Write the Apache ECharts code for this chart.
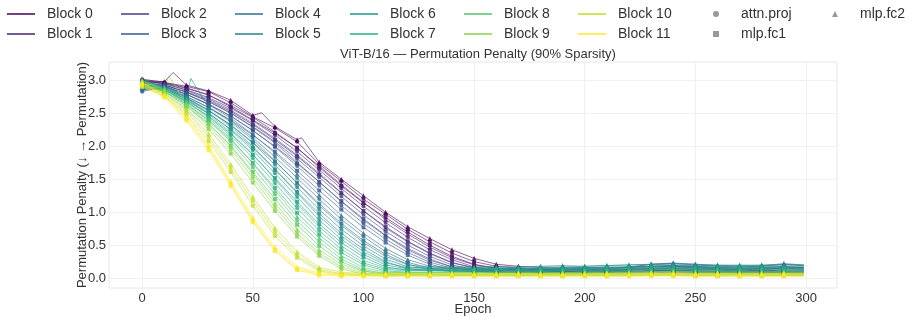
<!DOCTYPE html>
<html><head><meta charset="utf-8">
<script src="https://cdn.jsdelivr.net/npm/echarts@6/dist/echarts.min.js"></script>
<style>html,body{margin:0;padding:0;background:#fff}#c{width:913px;height:317px}</style>
</head><body><div id="c"></div>
<script>
const EPOCHS = [0,10,20,30,40,50,60,70,80,90,100,110,120,130,140,150,160,170,180,190,200,210,220,230,240,250,260,270,280,290,299];
const BLOCK_NAMES = ['Block 0','Block 1','Block 2','Block 3','Block 4','Block 5','Block 6','Block 7','Block 8','Block 9','Block 10','Block 11'];
const LAYER_NAMES = ['attn.proj','mlp.fc1','mlp.fc2'];
const X_TICKS = [0,50,100,150,200,250,300];
const Y_TICKS = [0,0.5,1,1.5,2,2.5,3];
const TITLE = 'ViT-B/16 — Permutation Penalty (90% Sparsity)';
const X_NAME = 'Epoch';
const Y_NAME = 'Permutation Penalty (↓ → Permutation)';

const B0_ATTN = [3.02,2.97,2.91,2.83,2.66,2.45,2.28,2.07,1.73,1.47,1.20,0.97,0.74,0.55,0.38,0.25,0.18,0.15,0.13,0.12,0.12,0.11,0.12,0.13,0.14,0.13,0.12,0.11,0.12,0.11,0.11];
const B0_FC1  = [2.98,2.96,2.88,2.78,2.60,2.40,2.20,1.98,1.68,1.40,1.14,0.92,0.70,0.50,0.33,0.21,0.15,0.12,0.11,0.10,0.09,0.09,0.10,0.11,0.10,0.09,0.09,0.10,0.09,0.08,0.08];
const B0_FC2  = [3.00,2.98,2.93,2.84,2.70,2.47,2.30,2.10,1.76,1.50,1.25,1.00,0.78,0.60,0.43,0.30,0.21,0.18,0.16,0.15,0.14,0.15,0.16,0.18,0.19,0.17,0.16,0.15,0.16,0.17,0.16];
const B1_ATTN = [3.00,2.95,2.86,2.74,2.58,2.39,2.17,1.92,1.64,1.36,1.09,0.84,0.62,0.43,0.28,0.17,0.12,0.11,0.10,0.11,0.10,0.09,0.10,0.11,0.12,0.11,0.10,0.10,0.11,0.10,0.10];
const B1_FC1  = [2.96,2.93,2.83,2.70,2.53,2.33,2.10,1.85,1.57,1.29,1.02,0.78,0.56,0.38,0.24,0.15,0.10,0.08,0.08,0.07,0.08,0.07,0.08,0.09,0.08,0.08,0.07,0.08,0.08,0.07,0.07];
const B1_FC2  = [2.99,2.97,2.89,2.78,2.62,2.44,2.22,1.97,1.70,1.42,1.15,0.89,0.67,0.47,0.31,0.20,0.15,0.14,0.13,0.13,0.12,0.13,0.14,0.17,0.18,0.16,0.14,0.13,0.14,0.15,0.14];
const B2_ATTN = [2.97,2.93,2.82,2.68,2.51,2.30,2.07,1.81,1.53,1.24,0.96,0.71,0.50,0.33,0.20,0.13,0.12,0.12,0.11,0.12,0.13,0.12,0.13,0.15,0.16,0.15,0.14,0.13,0.14,0.15,0.14];
const B2_FC1  = [2.93,2.91,2.79,2.64,2.46,2.24,2.00,1.74,1.46,1.17,0.90,0.65,0.45,0.29,0.17,0.11,0.09,0.09,0.08,0.09,0.09,0.08,0.09,0.10,0.11,0.10,0.09,0.09,0.10,0.09,0.09];
const B2_FC2  = [2.98,2.95,2.85,2.72,2.55,2.35,2.12,1.87,1.59,1.30,1.02,0.76,0.55,0.37,0.23,0.16,0.15,0.15,0.14,0.15,0.16,0.15,0.17,0.21,0.22,0.20,0.18,0.17,0.18,0.21,0.19];
const B3_ATTN = [2.83,2.91,2.79,2.64,2.46,2.24,1.99,1.70,1.40,1.10,0.83,0.59,0.39,0.24,0.15,0.12,0.12,0.13,0.12,0.12,0.13,0.14,0.13,0.15,0.17,0.16,0.15,0.14,0.15,0.16,0.15];
const B3_FC1  = [2.86,2.88,2.75,2.59,2.40,2.17,1.92,1.63,1.33,1.04,0.77,0.54,0.35,0.21,0.13,0.10,0.09,0.10,0.09,0.10,0.09,0.10,0.09,0.11,0.12,0.11,0.10,0.10,0.11,0.10,0.10];
const B3_FC2  = [2.90,2.93,2.82,2.68,2.50,2.29,2.05,1.76,1.46,1.16,0.88,0.64,0.43,0.27,0.17,0.14,0.14,0.15,0.14,0.15,0.16,0.17,0.16,0.21,0.23,0.21,0.19,0.18,0.19,0.22,0.20];
const B4_ATTN = [2.85,2.90,2.76,2.59,2.39,2.13,1.84,1.52,1.20,0.89,0.63,0.40,0.24,0.15,0.11,0.10,0.11,0.11,0.10,0.11,0.12,0.11,0.12,0.13,0.14,0.13,0.12,0.12,0.13,0.12,0.12];
const B4_FC1  = [2.88,2.87,2.72,2.54,2.33,2.06,1.77,1.45,1.13,0.83,0.57,0.36,0.21,0.13,0.10,0.09,0.09,0.08,0.08,0.09,0.08,0.09,0.09,0.10,0.11,0.10,0.09,0.09,0.10,0.09,0.09];
const B4_FC2  = [2.91,2.92,2.79,2.63,2.43,2.18,1.90,1.58,1.26,0.95,0.68,0.45,0.28,0.18,0.14,0.13,0.13,0.14,0.13,0.14,0.15,0.14,0.16,0.18,0.19,0.18,0.16,0.15,0.16,0.17,0.16];
const B5_ATTN = [2.88,2.89,2.73,2.55,2.32,2.05,1.72,1.38,1.04,0.74,0.49,0.29,0.17,0.15,0.15,0.14,0.15,0.14,0.15,0.16,0.15,0.16,0.17,0.18,0.19,0.18,0.17,0.17,0.18,0.17,0.17];
const B5_FC1  = [2.90,2.86,2.69,2.50,2.26,1.98,1.65,1.31,0.98,0.68,0.44,0.25,0.14,0.12,0.12,0.11,0.12,0.11,0.12,0.12,0.11,0.12,0.13,0.14,0.15,0.14,0.13,0.13,0.14,0.13,0.13];
const B5_FC2  = [2.93,2.91,2.76,2.59,2.37,2.10,1.78,1.44,1.10,0.80,0.54,0.33,0.20,0.17,0.17,0.17,0.18,0.17,0.18,0.19,0.18,0.19,0.20,0.21,0.22,0.21,0.20,0.19,0.20,0.20,0.20];
const B6_ATTN = [2.99,2.88,2.71,2.51,2.25,1.94,1.59,1.23,0.88,0.59,0.36,0.20,0.14,0.13,0.13,0.14,0.13,0.14,0.15,0.14,0.15,0.16,0.17,0.18,0.17,0.16,0.16,0.17,0.16,0.17,0.17];
const B6_FC1  = [2.95,2.85,2.67,2.46,2.19,1.87,1.52,1.16,0.82,0.54,0.32,0.17,0.12,0.11,0.11,0.12,0.11,0.12,0.12,0.12,0.13,0.13,0.14,0.15,0.14,0.14,0.13,0.14,0.14,0.14,0.14];
const B6_FC2  = [3.01,2.90,2.74,2.55,2.30,2.00,1.65,1.29,0.94,0.64,0.40,0.23,0.16,0.15,0.15,0.16,0.15,0.16,0.17,0.17,0.18,0.19,0.20,0.21,0.20,0.19,0.19,0.20,0.19,0.20,0.19];
const B7_ATTN = [2.90,2.86,2.68,2.45,2.16,1.82,1.44,1.06,0.72,0.44,0.23,0.13,0.11,0.12,0.11,0.12,0.12,0.11,0.12,0.12,0.11,0.12,0.12,0.13,0.13,0.12,0.12,0.12,0.13,0.12,0.12];
const B7_FC1  = [2.93,2.83,2.64,2.40,2.10,1.75,1.37,0.99,0.66,0.39,0.20,0.11,0.09,0.09,0.09,0.10,0.09,0.09,0.10,0.09,0.09,0.10,0.10,0.10,0.11,0.10,0.10,0.10,0.10,0.10,0.10];
const B7_FC2  = [2.96,2.88,2.71,2.49,2.21,1.88,1.50,1.12,0.78,0.49,0.27,0.15,0.13,0.14,0.14,0.14,0.15,0.14,0.15,0.14,0.14,0.15,0.15,0.16,0.16,0.15,0.15,0.15,0.16,0.15,0.15];
const B8_ATTN = [2.98,2.86,2.65,2.39,2.07,1.68,1.27,0.87,0.55,0.29,0.13,0.07,0.06,0.06,0.06,0.05,0.06,0.06,0.06,0.05,0.06,0.06,0.06,0.07,0.07,0.06,0.06,0.06,0.06,0.06,0.06];
const B8_FC1  = [2.94,2.83,2.61,2.34,2.01,1.61,1.20,0.81,0.49,0.25,0.11,0.05,0.05,0.04,0.05,0.04,0.04,0.05,0.04,0.04,0.05,0.04,0.05,0.05,0.05,0.04,0.05,0.05,0.04,0.05,0.05];
const B8_FC2  = [3.00,2.88,2.68,2.43,2.12,1.74,1.33,0.93,0.61,0.34,0.16,0.09,0.08,0.08,0.08,0.08,0.08,0.08,0.09,0.08,0.08,0.09,0.09,0.10,0.10,0.09,0.09,0.09,0.09,0.09,0.09];
const B9_ATTN = [2.96,2.84,2.61,2.31,1.95,1.52,1.08,0.68,0.38,0.17,0.08,0.06,0.06,0.06,0.06,0.06,0.06,0.05,0.06,0.06,0.06,0.06,0.06,0.07,0.07,0.06,0.06,0.07,0.06,0.06,0.06];
const B9_FC1  = [2.92,2.81,2.57,2.26,1.89,1.45,1.02,0.63,0.34,0.14,0.06,0.04,0.04,0.04,0.04,0.04,0.04,0.04,0.04,0.04,0.04,0.04,0.04,0.05,0.05,0.04,0.04,0.05,0.04,0.04,0.04];
const B9_FC2  = [2.99,2.86,2.64,2.35,2.00,1.58,1.14,0.74,0.43,0.21,0.10,0.08,0.08,0.08,0.08,0.08,0.08,0.08,0.08,0.08,0.09,0.08,0.09,0.09,0.10,0.09,0.09,0.09,0.09,0.09,0.09];
const B10_ATTN = [2.93,2.79,2.52,2.14,1.67,1.17,0.70,0.35,0.13,0.07,0.05,0.05,0.05,0.04,0.05,0.05,0.05,0.04,0.05,0.05,0.05,0.05,0.05,0.05,0.06,0.05,0.05,0.05,0.05,0.05,0.05];
const B10_FC1  = [2.90,2.77,2.48,2.08,1.61,1.10,0.64,0.31,0.11,0.05,0.04,0.03,0.03,0.03,0.03,0.03,0.03,0.03,0.03,0.03,0.03,0.03,0.03,0.04,0.04,0.03,0.03,0.03,0.03,0.03,0.03];
const B10_FC2  = [2.96,2.81,2.55,2.19,1.73,1.23,0.76,0.40,0.16,0.09,0.07,0.07,0.07,0.07,0.07,0.07,0.07,0.07,0.07,0.07,0.07,0.07,0.08,0.08,0.08,0.07,0.07,0.07,0.07,0.07,0.07];
const B11_ATTN = [2.95,2.76,2.42,1.98,1.43,0.87,0.43,0.14,0.06,0.05,0.04,0.05,0.04,0.04,0.05,0.04,0.04,0.05,0.04,0.04,0.04,0.05,0.04,0.05,0.05,0.04,0.05,0.04,0.04,0.05,0.05];
const B11_FC1  = [2.92,2.74,2.39,1.94,1.40,0.85,0.41,0.12,0.04,0.03,0.03,0.03,0.03,0.03,0.03,0.03,0.03,0.03,0.03,0.03,0.03,0.03,0.03,0.03,0.03,0.03,0.03,0.03,0.03,0.03,0.03];
const B11_FC2  = [2.97,2.78,2.45,2.02,1.47,0.92,0.47,0.17,0.08,0.07,0.06,0.07,0.06,0.06,0.07,0.06,0.06,0.07,0.06,0.06,0.06,0.07,0.06,0.07,0.07,0.06,0.07,0.06,0.06,0.07,0.07];

// extra in-between readings (noisy bumps visible between marker epochs): [epoch, value]
const B0_FC2_BUMPS = [[14, 3.12], [54, 2.51], [72, 2.13]];
const B5_FC2_BUMPS = [[22, 3.03]];
const B9_FC2_BUMPS = [[12, 3.07]];

const VALUES = [
  [B0_ATTN,B0_FC1,B0_FC2],[B1_ATTN,B1_FC1,B1_FC2],[B2_ATTN,B2_FC1,B2_FC2],[B3_ATTN,B3_FC1,B3_FC2],
  [B4_ATTN,B4_FC1,B4_FC2],[B5_ATTN,B5_FC1,B5_FC2],[B6_ATTN,B6_FC1,B6_FC2],[B7_ATTN,B7_FC1,B7_FC2],
  [B8_ATTN,B8_FC1,B8_FC2],[B9_ATTN,B9_FC1,B9_FC2],[B10_ATTN,B10_FC1,B10_FC2],[B11_ATTN,B11_FC1,B11_FC2]
];
const BUMPS = {'0-2': B0_FC2_BUMPS, '5-2': B5_FC2_BUMPS, '9-2': B9_FC2_BUMPS};

const COLORS = ['#440154','#482173','#433e85','#38588c','#2d708e','#25858e','#1e9b8a','#2ab07f','#52c569','#86d549','#c2df23','#fde725'];
const SYMBOLS = ['circle','rect','triangle'];
const SYM_SIZE = [4,4,5];
const FONT = 'Liberation Sans, Arial, sans-serif';
const TXT = '#333333';

const series = [];
VALUES.forEach((layers, b) => {
  layers.forEach((vals, l) => {
    let pts = EPOCHS.map((e, i) => ({e: e, v: vals[i], mark: e % 10 === 0}));
    (BUMPS[b + '-' + l] || []).forEach(p => pts.push({e: p[0], v: p[1], mark: false}));
    pts.sort((a, c) => a.e - c.e);
    series.push({
      type: 'line',
      name: BLOCK_NAMES[b] + ' ' + LAYER_NAMES[l],
      data: pts.map(p => (p.mark ? [p.e, p.v] : {value: [p.e, p.v], symbol: 'none'})),
      symbol: SYMBOLS[l],
      symbolSize: SYM_SIZE[l],
      showSymbol: true,
      showAllSymbol: true,
      lineStyle: {width: 1, color: COLORS[b], opacity: 0.6},
      itemStyle: {color: COLORS[b], opacity: 0.8, borderWidth: 0},
      emphasis: {disabled: true},
      silent: true,
      animation: false
    });
  });
});
// legend-only entries
BLOCK_NAMES.forEach((n, b) => {
  series.push({type: 'line', name: n, data: [], symbol: 'none', color: COLORS[b], itemStyle: {color: COLORS[b]}, lineStyle: {width: 1.5, color: COLORS[b]}});
});
LAYER_NAMES.forEach((n, l) => {
  series.push({type: 'scatter', name: n, data: [], symbol: SYMBOLS[l], color: '#808080', itemStyle: {color: '#808080'}});
});

const legends = [];
const COL_X = [7, 121, 235, 350, 464, 578];
for (let c = 0; c < 6; c++) {
  legends.push({
    orient: 'vertical', left: COL_X[c], top: 7, padding: 0,
    itemWidth: 28, itemHeight: 1.5, itemGap: 6, icon: 'rect',
    selectedMode: false,
    data: [BLOCK_NAMES[2 * c], BLOCK_NAMES[2 * c + 1]],
    textStyle: {fontSize: 14, color: TXT, fontFamily: FONT, padding: [0, 0, 0, 7]}
  });
}
legends.push({
  orient: 'vertical', left: 713, top: 7, padding: 0, itemWidth: 6, itemHeight: 6, itemGap: 6,
  selectedMode: false, data: [LAYER_NAMES[0], LAYER_NAMES[1]],
  textStyle: {fontSize: 14, color: TXT, fontFamily: FONT, padding: [0, 0, 0, 17]}
});
legends.push({
  orient: 'vertical', left: 832, top: 7, padding: 0, itemWidth: 6, itemHeight: 6, itemGap: 6,
  selectedMode: false, data: [LAYER_NAMES[2]],
  textStyle: {fontSize: 14, color: TXT, fontFamily: FONT, padding: [0, 0, 0, 17]}
});

const chart = echarts.init(document.getElementById('c'), null, {renderer: 'canvas'});
chart.setOption({
  animation: false,
  backgroundColor: '#ffffff',
  title: {text: TITLE, left: 473, top: 43, textAlign: 'center',
    textStyle: {fontSize: 13, fontWeight: 'normal', color: TXT, fontFamily: FONT}},
  legend: legends,
  grid: {left: 109, right: 76, top: 62, bottom: 29, show: true, borderColor: '#e6e6e6', borderWidth: 1,
    containLabel: false, outerBoundsMode: 'none'},
  xAxis: {
    type: 'value', min: -15, max: 314,
    name: X_NAME, nameLocation: 'middle', nameGap: 15, nameMoveOverlap: false,
    nameTextStyle: {fontSize: 13, color: TXT, fontFamily: FONT},
    axisLine: {show: false}, axisTick: {show: false, customValues: X_TICKS},
    axisLabel: {customValues: X_TICKS, fontSize: 13, color: TXT, fontFamily: FONT, margin: 4},
    splitLine: {show: true, lineStyle: {color: '#f0f0f0', width: 1}}
  },
  yAxis: {
    type: 'value', min: -0.15, max: 3.28,
    name: Y_NAME, nameLocation: 'middle', nameGap: 20, nameRotate: 90, nameMoveOverlap: false,
    nameTextStyle: {fontSize: 13, color: TXT, fontFamily: FONT},
    axisLine: {show: false}, axisTick: {show: false, customValues: Y_TICKS},
    axisLabel: {customValues: Y_TICKS, fontSize: 13, color: TXT, fontFamily: FONT, margin: 3,
      formatter: v => v.toFixed(1)},
    splitLine: {show: true, lineStyle: {color: '#f0f0f0', width: 1}}
  },
  series: series
});
</script></body></html>
